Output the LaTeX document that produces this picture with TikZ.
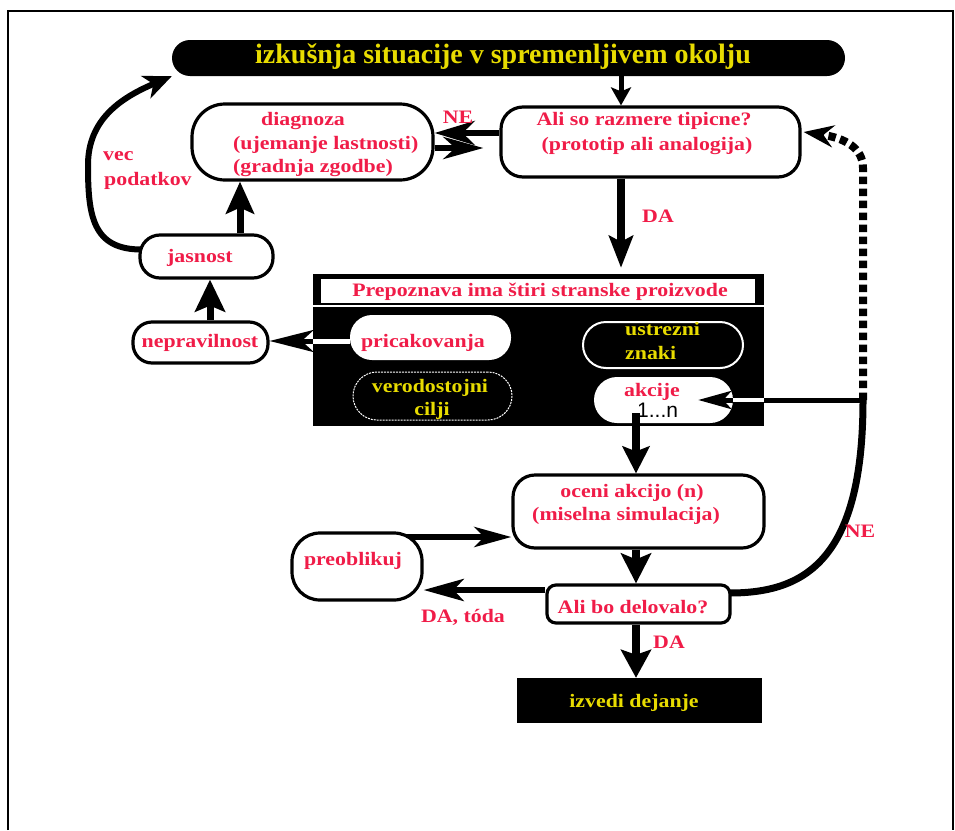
\documentclass[tikz,border=0pt]{standalone}
\usepackage{fontspec}
\setmainfont{Liberation Serif}
\newfontfamily\wideserif[FakeStretch=1.15]{Liberation Serif}
\newfontfamily\arialf{Liberation Sans}
\usetikzlibrary{arrows.meta,calc}
\definecolor{txtred}{RGB}{240,28,72}
\definecolor{txtyel}{RGB}{232,220,0}
\pgfdeclarelayer{bg}
\pgfdeclarelayer{fg}
\pgfsetlayers{bg,main,fg}
\tikzset{
  rbox/.style={draw=black, line width=3.2pt, fill=white, rounded corners=#1, inner sep=0pt},
  rt/.style={font=\wideserif\bfseries\fontsize{19}{24}\selectfont, text=txtred, inner sep=0pt, anchor=base},
  yt/.style={font=\wideserif\bfseries\fontsize{19}{24}\selectfont, text=txtyel, inner sep=0pt, anchor=base},
  arw/.style n args={4}{line width=#1pt, -{Stealth[length=#2pt,width=#3pt,inset=#4pt]}},
}
\begin{document}
\begin{tikzpicture}[x=1pt,y=-1pt]
\useasboundingbox (0,0) rectangle (955,830);
% frame
\draw[line width=2.5pt] (8,830) -- (8,11) -- (953,11) -- (953,830);

% banner
\node[fill=black, rounded corners=18pt, minimum width=673pt, minimum height=36pt, inner sep=0pt] (banner) at (508.5,58) {};
\node[font=\bfseries\fontsize{28}{30}\selectfont, text=txtyel, inner sep=0pt, anchor=base] (bantxt) at (503,63) {izkušnja situacije v spremenljivem okolju};

% main boxes
\node[rbox=22pt, minimum width=299pt, minimum height=70pt] (ali) at (650.5,142) {};
\node[rbox=33pt, minimum width=241pt, minimum height=76pt] (diag) at (312.5,142) {};
\node[rbox=20pt, minimum width=133pt, minimum height=43pt] (jas) at (206.5,256.5) {};
\node[rbox=19pt, minimum width=135pt, minimum height=41pt] (nepr) at (200.5,342.5) {};
\node[rbox=22pt, minimum width=251pt, minimum height=73pt] (oceni) at (638.5,511.5) {};
\node[rbox=28pt, minimum width=130pt, minimum height=67pt] (pre) at (357,566.5) {};
\node[rbox=9pt, minimum width=183pt, minimum height=38pt] (alibo) at (638.5,604) {};
\node[fill=black, minimum width=245pt, minimum height=45pt, inner sep=0pt] (izv) at (639.5,700.5) {};

% recognition block
\node[fill=black, minimum width=451pt, minimum height=152pt, inner sep=0pt] (prep) at (538.5,350) {};
\node[fill=white, minimum width=434pt, minimum height=24pt, inner sep=0pt] (ptitle) at (538,291) {};
\draw[white, line width=1.5pt] (313,305.8) -- (764,305.8);
\node[fill=white, rounded corners=22pt, minimum width=161pt, minimum height=45pt, inner sep=0pt] (pric) at (430.5,337.5) {};
\node[fill=black, draw=white, line width=2pt, rounded corners=23pt, minimum width=160pt, minimum height=46pt, inner sep=0pt] (ustr) at (663,345) {};
\node[fill=black, draw=white, line width=1pt, dash pattern=on 2pt off 1pt, rounded corners=24pt, minimum width=159pt, minimum height=48pt, inner sep=0pt] (vero) at (432.5,396) {};
\node[fill=white, rounded corners=23pt, minimum width=139pt, minimum height=46pt, inner sep=0pt] (akc) at (663.5,400) {};

% texts
\node[rt] (t1) at (644,125) {Ali so razmere tipicne?};
\node[rt] (t2) at (647,150) {(prototip ali analogija)};
\node[rt] (t3) at (303,125) {diagnoza};
\node[rt, anchor=base west] (t4) at (233,149) {(ujemanje lastnosti)};
\node[rt, anchor=base west] (t5) at (233,172) {(gradnja zgodbe)};
\node[rt] (t6) at (458,123) {NE};
\node[rt] (t7) at (658,222) {DA};
\node[rt, anchor=base west] (t8) at (103,160) {vec};
\node[rt, anchor=base west] (t9) at (104,185) {podatkov};
\node[rt] (t10) at (200,262) {jasnost};
\node[rt] (t11) at (200,347) {nepravilnost};
\node[rt] (t12) at (540,296) {Prepoznava ima štiri stranske proizvode};
\node[rt] (t13) at (423,347) {pricakovanja};
\node[yt, anchor=base west] (t14) at (625,335) {ustrezni};
\node[yt, anchor=base west] (t15) at (625,359) {znaki};
\node[yt] (t16) at (430,392) {verodostojni};
\node[yt] (t17) at (432,415) {cilji};
\node[rt] (t18) at (652,396) {akcije};
\node[font=\arialf\fontsize{21}{22}\selectfont, text=black, inner sep=0pt, anchor=base west] (t19) at (637,417) {1...n};
\node[rt] (t20) at (632,497) {oceni akcijo (n)};
\node[rt] (t21) at (626,520) {(miselna simulacija)};
\node[rt] (t22) at (353,565) {preoblikuj};
\node[rt] (t23) at (633,613) {Ali bo delovalo?};
\node[rt] (t24) at (463,622) {DA, tóda};
\node[rt] (t25) at (669,648) {DA};
\node[rt] (t26) at (860,537) {NE};
\node[yt] (t27) at (634,707) {izvedi dejanje};

% helper coordinates
\coordinate (xA) at (621,0);
\coordinate (xJ) at (240,0);
\coordinate (xN) at (210,0);
\coordinate (xO) at (636,0);
\coordinate (yNE1) at (0,133);
\coordinate (yNE2) at (0,148);
\coordinate (yPr) at (0,341);
\coordinate (yP) at (0,537);
\coordinate (yD) at (0,590);
\coordinate (jn) at (863,400);

\begin{pgfonlayer}{bg}
\draw[arw={5}{18}{20}{4}] (banner.south -| xA) -- (ali.north -| xA);
\draw[arw={6}{40}{24}{12}] (ali.west |- yNE1) -- (diag.east |- yNE1);
\draw[arw={6}{40}{22}{12}] (diag.east |- yNE2) -- ($(ali.west |- yNE2)+(-16,0)$);
\draw[arw={8}{32}{24}{6}] (ali.south -| xA) -- ($(prep.north -| xA)+(0,-6)$);
\draw[arw={7}{32}{28}{6}] (jas.north -| xJ) -- (diag.south -| xJ);
\draw[arw={7}{32}{30}{6}] (nepr.north -| xN) -- (jas.south -| xN);
\draw[arw={6}{28}{24}{8}] ($(jas.west)+(4,-7)$) .. controls (92,250) and (88,215) .. (88,165) .. controls (88,120) and (120,98) .. (banner.south west);
\draw[arw={8}{30}{30}{6}] (oceni.south -| xO) -- (alibo.north -| xO);
\draw[arw={8}{28}{30}{5}] (alibo.south -| xO) -- (izv.north -| xO);
\draw[arw={6}{37}{20}{10}] ($(pre.east |- yP)+(-20,0)$) -- (oceni.west |- yP);
\draw[arw={6}{40}{22}{10}] (alibo.west |- yD) -- (pre.east |- yD);
\draw[line width=7pt] ($(alibo.east)+(-2,-11)$) .. controls (805,593) and (863,560) .. (jn);
\draw[line width=8pt, dash pattern=on 7.5pt off 4.5pt, -{Stealth[length=30pt,width=22pt,inset=10pt]}] (jn) -- (863,168) .. controls (863,148) and (845,138) .. ($(ali.east)+(2,-10)$);
\end{pgfonlayer}

\begin{pgfonlayer}{fg}
\draw[arw={5}{33}{18}{8}] (jn) -- ($(akc.east |- jn)+(-35,0)$);
\draw[white, line width=4pt] (prep.east |- jn) -- (akc.east |- jn);
\draw[white, line width=5pt] (pric.west |- yPr) -- (prep.west |- yPr);
\draw[arw={5}{44}{22}{12}] (prep.west |- yPr) -- (nepr.east |- yPr);
\draw[arw={8}{27}{27}{5}] ($(akc.south -| xO)+(0,-10)$) -- (oceni.north -| xO);
\end{pgfonlayer}
\end{tikzpicture}
\end{document}
